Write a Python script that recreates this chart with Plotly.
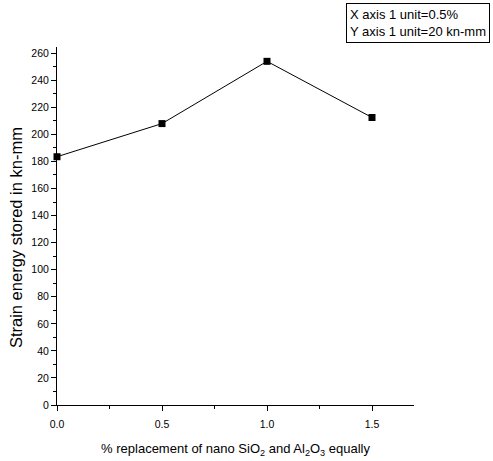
import plotly.graph_objects as go

x_pct = [0.0, 0.5, 1.0, 1.5]
strain_energy = [183.5, 208.0, 254.0, 212.5]
y_tick_vals = list(range(0, 261, 20))
x_tick_vals = [0.0, 0.5, 1.0, 1.5]
x_tick_text = ["0.0", "0.5", "1.0", "1.5"]

FONT = "Liberation Sans, Arial, sans-serif"

fig = go.Figure()
fig.add_trace(go.Scatter(
    x=x_pct, y=strain_energy, mode="lines+markers",
    line=dict(color="black", width=1),
    marker=dict(symbol="square", size=7, color="black"),
    cliponaxis=False, showlegend=False,
))

fig.update_layout(
    width=493, height=461,
    margin=dict(l=57, r=79, t=47, b=56),
    paper_bgcolor="white", plot_bgcolor="white",
    font=dict(family=FONT, color="black", size=10.5),
    xaxis=dict(
        range=[0, 1.7], tickvals=x_tick_vals, ticktext=x_tick_text,
        ticks="outside", ticklen=5, tickwidth=1, tickcolor="black",
        ticklabelstandoff=4, automargin=False,
        minor=dict(dtick=0.25, tick0=0, ticks="outside", ticklen=3, tickcolor="black"),
        showline=True, linecolor="black", linewidth=1,
        showgrid=False, zeroline=False,
        title=dict(text="% replacement of nano SiO<sub>2</sub> and Al<sub>2</sub>O<sub>3</sub> equally",
                   font=dict(size=13), standoff=15),
        tickfont=dict(size=10.5),
    ),
    yaxis=dict(
        range=[0, 264.6], tickvals=y_tick_vals,
        ticks="outside", ticklen=5, tickwidth=1, tickcolor="black",
        automargin=False,
        minor=dict(dtick=10, tick0=0, ticks="outside", ticklen=3, tickcolor="black"),
        showline=True, linecolor="black", linewidth=1,
        showgrid=False, zeroline=False,
        tickfont=dict(size=10.5),
    ),
    annotations=[
        dict(
            xref="paper", yref="paper", x=0.809, y=1.122,
            xanchor="left", yanchor="top", align="left",
            text="X axis 1 unit=0.5%<br>Y axis 1 unit=20 kn-mm",
            showarrow=False, font=dict(size=13, family=FONT),
            bordercolor="black", borderwidth=1, borderpad=3, bgcolor="white",
        ),
        dict(
            xref="paper", yref="paper", x=-0.1164, y=0.4675,
            xanchor="center", yanchor="middle", textangle=-90,
            text="Strain energy stored in kn-mm",
            showarrow=False, font=dict(size=16.5, family=FONT),
        ),
    ],
)

fig.write_html("out.html", post_script="document.body.style.margin='0';",
               config={"displayModeBar": False})
